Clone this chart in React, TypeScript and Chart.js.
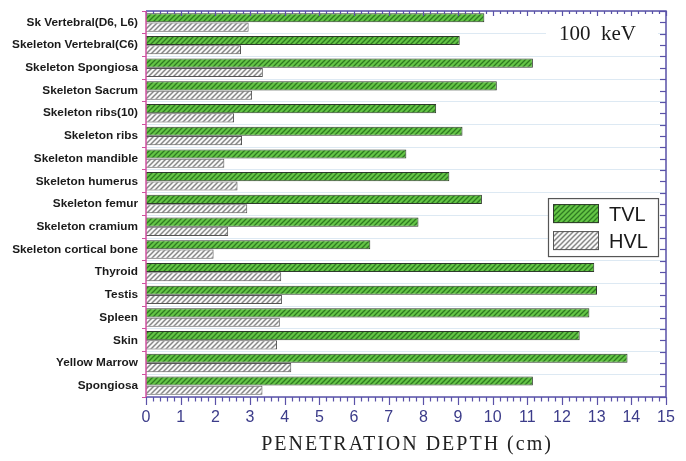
import React, { useEffect, useRef } from 'react';
import { Chart, registerables } from 'chart.js';

Chart.register(...registerables);

const categories = [
  'Sk Vertebral(D6, L6)',
  'Skeleton Vertebral(C6)',
  'Skeleton Spongiosa',
  'Skeleton Sacrum',
  'Skeleton ribs(10)',
  'Skeleton ribs',
  'Skeleton mandible',
  'Skeleton humerus',
  'Skeleton femur',
  'Skeleton cramium',
  'Skeleton cortical bone',
  'Thyroid',
  'Testis',
  'Spleen',
  'Skin',
  'Yellow Marrow',
  'Spongiosa',
];
const tvlValues = [9.76, 9.05, 11.16, 10.12, 8.37, 9.13, 7.51, 8.75, 9.69, 7.86, 6.47, 12.93, 13.01, 12.79, 12.51, 13.89, 11.16];
const hvlValues = [2.96, 2.74, 3.37, 3.06, 2.54, 2.77, 2.26, 2.64, 2.92, 2.37, 1.95, 3.9, 3.92, 3.86, 3.78, 4.19, 3.36];
const seriesLabels = ['TVL', 'HVL'];
const xMin = 0;
const xMax = 15;
const xStep = 1;
const xMinorStep = 0.2;
const xTitle = 'PENETRATION DEPTH (cm)';
const annotationText = '100 keV';

function makeStripe(ctx: CanvasRenderingContext2D, bg: string, fg: string, size: number, lw: number) {
  const c = document.createElement('canvas');
  c.width = size;
  c.height = size;
  const g = c.getContext('2d')!;
  g.fillStyle = bg;
  g.fillRect(0, 0, size, size);
  g.strokeStyle = fg;
  g.lineWidth = lw;
  g.beginPath();
  g.moveTo(-1, size + 1);
  g.lineTo(size + 1, -1);
  g.moveTo(-1, 1);
  g.lineTo(1, -1);
  g.moveTo(size - 1, size + 1);
  g.lineTo(size + 1, size - 1);
  g.stroke();
  return ctx.createPattern(c, 'repeat')!;
}

const framePlugin = {
  id: 'framePlugin',
  afterDatasetsDraw(chart: any) {
    const { ctx, chartArea } = chart;
    const { left, right, top, bottom } = chartArea;
    const xs = chart.scales.x;
    const ys = chart.scales.y;
    ctx.save();
    ctx.strokeStyle = '#5a52a8';
    ctx.lineWidth = 1.5;
    ctx.beginPath();
    ctx.moveTo(left, top);
    ctx.lineTo(right, top);
    ctx.lineTo(right, bottom);
    ctx.stroke();
    ctx.beginPath();
    ctx.moveTo(left, bottom);
    ctx.lineTo(right, bottom);
    ctx.stroke();
    ctx.lineWidth = 1.2;
    const n = Math.round((xMax - xMin) / xMinorStep);
    for (let i = 0; i <= n; i++) {
      const v = xMin + i * xMinorStep;
      const major = i % Math.round(xStep / xMinorStep) === 0;
      const px = Math.round(xs.getPixelForValue(v)) + 0.5;
      ctx.beginPath();
      ctx.moveTo(px, bottom);
      ctx.lineTo(px, bottom + (major ? 8 : 4.5));
      ctx.moveTo(px, top);
      ctx.lineTo(px, top + (major ? 5 : 3));
      ctx.stroke();
    }
    for (let i = 0; i <= categories.length * 2; i++) {
      const v = -0.5 + i * 0.5;
      const py = Math.round(ys.getPixelForValue(v)) + 0.5;
      ctx.beginPath();
      ctx.moveTo(right, py);
      ctx.lineTo(right - 6, py);
      ctx.stroke();
    }
    ctx.strokeStyle = '#d050a0';
    ctx.lineWidth = 1.5;
    ctx.beginPath();
    ctx.moveTo(left, top);
    ctx.lineTo(left, bottom);
    ctx.stroke();

    // annotation
    ctx.fillStyle = '#ffffff';
    ctx.fillRect(right - 120, top + 7, 112, 30);
    ctx.fillStyle = '#1a1a1a';
    ctx.font = '21px "Liberation Serif", serif';
    ctx.textAlign = 'left';
    ctx.textBaseline = 'middle';
    ctx.fillText(annotationText.replace(' ', '\u2002'), right - 107, top + 23);

    // legend
    const lx = right - 118;
    const ly = top + 187;
    ctx.fillStyle = '#ffffff';
    ctx.fillRect(lx, ly, 110, 58);
    ctx.strokeStyle = '#555555';
    ctx.lineWidth = 1.2;
    ctx.strokeRect(lx + 0.5, ly + 0.5, 110, 58);
    chart.data.datasets.forEach((ds: any, i: number) => {
      const sy = ly + 6 + i * 27;
      ctx.fillStyle = ds.backgroundColor;
      ctx.fillRect(lx + 5, sy, 46, 19);
      ctx.strokeStyle = ds.borderColor;
      ctx.lineWidth = 1;
      ctx.strokeRect(lx + 5.5, sy + 0.5, 45, 18);
      ctx.fillStyle = '#1a1a1a';
      ctx.font = '20px "Liberation Sans", Arial, sans-serif';
      ctx.textBaseline = 'middle';
      ctx.fillText(ds.label, lx + 61, sy + 11);
    });

    // x-axis title (letter-spaced)
    ctx.fillStyle = '#222222';
    ctx.font = '20px "Liberation Serif", serif';
    (ctx as any).letterSpacing = '2px';
    ctx.textAlign = 'center';
    ctx.textBaseline = 'alphabetic';
    ctx.fillText(xTitle, (left + right) / 2 + 1, bottom + 53);
    ctx.restore();
  },
};

export default function App() {
  const ref = useRef<HTMLCanvasElement>(null);
  useEffect(() => {
    const canvas = ref.current!;
    const ctx = canvas.getContext('2d')!;
    const green = makeStripe(ctx, '#64c545', '#2e7a22', 5, 1.25);
    const gray = makeStripe(ctx, '#f8f8f8', '#868686', 5, 1.5);
    const chart = new Chart(canvas, {
      type: 'bar',
      data: {
        labels: categories,
        datasets: [
          {
            label: seriesLabels[0],
            data: tvlValues,
            backgroundColor: green as any,
            borderColor: '#2f3a2c',
            borderWidth: 1,
            categoryPercentage: 0.82,
            barPercentage: 0.98,
          },
          {
            label: seriesLabels[1],
            data: hvlValues,
            backgroundColor: gray as any,
            borderColor: '#555555',
            borderWidth: 1,
            categoryPercentage: 0.82,
            barPercentage: 0.98,
          },
        ],
      },
      options: {
        indexAxis: 'y',
        animation: false,
        responsive: false,
        layout: { padding: { top: 6, right: 20, left: 0, bottom: 0 } },
        plugins: { legend: { display: false }, tooltip: { enabled: false } },
        scales: {
          x: {
            type: 'linear',
            min: xMin,
            max: xMax,
            afterFit: (s: any) => {
              s.height = 64;
            },
            ticks: {
              stepSize: xStep,
              color: '#3c3c8a',
              font: { family: '"Liberation Sans", Arial, sans-serif', size: 16 },
              padding: 11,
            },
            grid: { display: false, drawTicks: false },
            border: { display: false },
            title: { display: false, text: xTitle },
          },
          y: {
            type: 'category',
            afterFit: (s: any) => {
              s.width = 146;
            },
            ticks: {
              autoSkip: false,
              color: '#1a1a1a',
              font: { family: '"Liberation Sans", Arial, sans-serif', size: 11.8, weight: 'bold' },
              padding: 4,
            },
            grid: {
              color: '#dde9f3',
              tickColor: '#d050a0',
              tickLength: 4,
              lineWidth: 1,
            },
            border: { display: false },
          },
        },
      },
      plugins: [framePlugin],
    } as any);
    return () => chart.destroy();
  }, []);
  return (
    <div style={{ position: 'fixed', left: 0, top: 0, width: 686, height: 461, background: '#fff' }}>
      <canvas ref={ref} width={686} height={461} style={{ display: 'block' }} />
    </div>
  );
}
